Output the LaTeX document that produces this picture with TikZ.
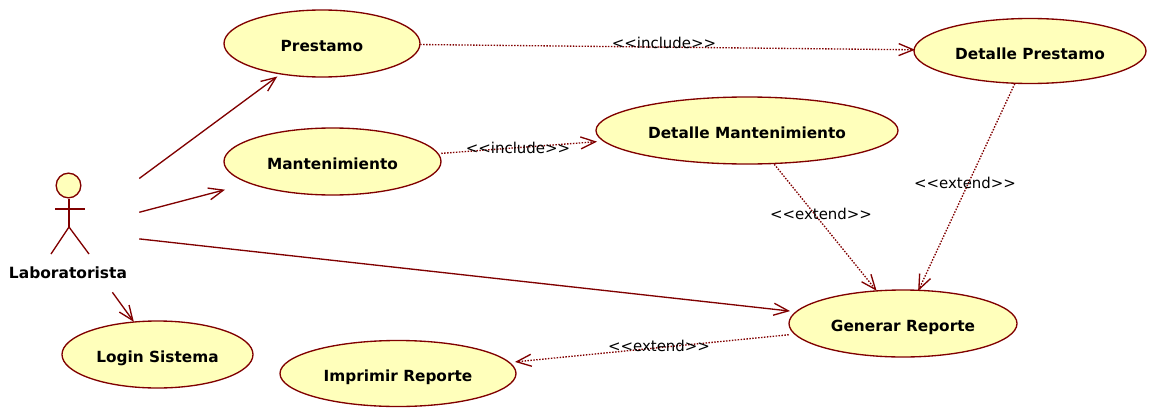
\documentclass[tikz,border=0pt]{standalone}
\usepackage{fontspec}
\setmainfont{DejaVu Sans}
\usetikzlibrary{arrows.meta, shapes.geometric, positioning}
\definecolor{umlline}{HTML}{800000}
\definecolor{umlfill}{HTML}{FFFFBB}
\tikzset{
  usecase/.style 2 args={ellipse, draw=umlline, fill=umlfill, line width=1pt, inner sep=0pt,
    minimum width=#1*0.75pt, minimum height=#2*0.75pt, text height=14.2pt, text depth=2.2pt,
    font=\bfseries\fontsize{11.5pt}{13pt}\selectfont},
  usebox/.style 2 args={inner sep=0pt, minimum width=#1*0.75pt, minimum height=#2*0.75pt},
  assoc/.style={draw=umlline, line width=1pt, shorten >=-1pt, -{Straight Barb[length=11pt,width=9pt]}},
  dep/.style={draw=umlline, line width=1pt, dash pattern=on 1.1pt off 1.1pt, shorten >=-1pt,
    -{Straight Barb[length=11pt,width=9pt]}},
  stereo/.style={inner sep=0pt, text=black, font=\fontsize{11.2pt}{13pt}\selectfont},
  limb/.style={draw=umlline, line width=1pt}
}
% ellipse with its text, and the box round it that the connectors stop at
\newcommand{\usecasenode}[5]{
  \node[usecase={#3}{#4}] (#1e) at (#2) {#5};
  \node[usebox={#3}{#4}] (#1) at (#2) {};
}
\begin{document}
\begin{tikzpicture}[x=0.75pt, y=-0.75pt]
      \useasboundingbox (0, 0) rectangle (1149, 407);

      % actor
      \node[usebox={142}{122}] (lab) at (68, 231) {};
      \node[circle, draw=umlline, fill=umlfill, line width=1pt, inner sep=0pt, minimum size=18.5pt] (head) at (68.5, 185.5) {};
      \coordinate (hip) at (69, 227);
      \draw[limb] (head.south) ++(0.5, 0) -- (hip);
      \draw[limb] (55, 209) -- (85, 209);
      \draw[limb] (51, 254) -- (hip) -- (89, 254);
      \node[inner sep=0pt, font=\bfseries\fontsize{11.6pt}{13pt}\selectfont] (name) at (68, 273) {Laboratorista};

      % use cases
      \usecasenode{prestamo}{322, 43.5}{196}{67}{Prestamo}
      \usecasenode{mant}{332.5, 161.5}{217}{67}{Mantenimiento}
      \usecasenode{detp}{1030, 51}{232}{65}{Detalle Prestamo}
      \usecasenode{detm}{747, 130.5}{302}{67}{Detalle Mantenimiento}
      \usecasenode{gen}{903, 323.5}{228}{67}{Generar Reporte}
      \usecasenode{login}{157.5, 354.5}{191}{67}{Login Sistema}
      \usecasenode{imp}{398, 373.5}{236}{66}{Imprimir Reporte}

      \draw[assoc] (lab) -- (prestamo);
      \draw[assoc] (lab) -- (mant);
      \draw[assoc] (lab) -- (gen);
      \draw[assoc] (lab) -- (login);

      \draw[dep] (prestamo) -- (detp);
      \draw[dep] (mant) -- (detm);
      \draw[dep] (detm) -- (gen);
      \draw[dep] (detp) -- (gen);
      \draw[dep] (gen) -- (imp);

      \node[stereo] (inc1) at (664, 43) {<{}<include>{}>};
      \node[stereo] (inc2) at (518, 148) {<{}<include>{}>};
      \node[stereo] (ext1) at (821, 214) {<{}<extend>{}>};
      \node[stereo] (ext2) at (965, 183) {<{}<extend>{}>};
      \node[stereo] (ext3) at (659, 346) {<{}<extend>{}>};
    \end{tikzpicture}
\end{document}
